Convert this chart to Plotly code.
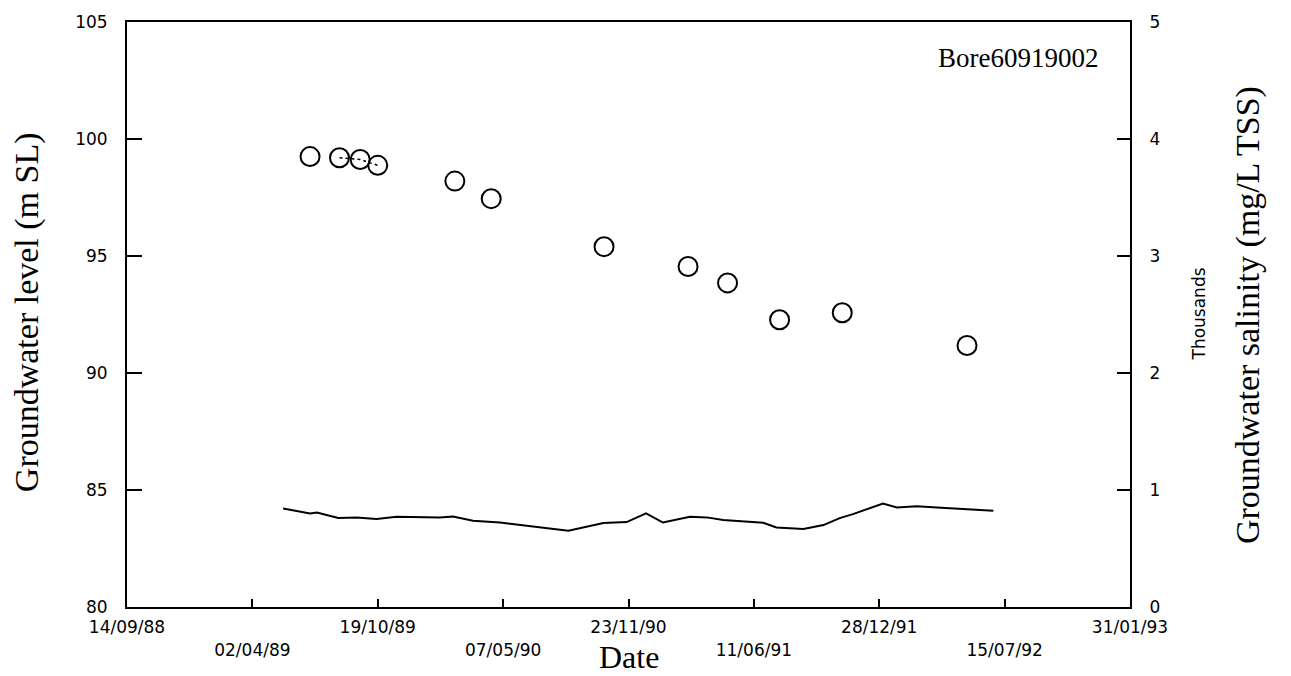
import pandas as pd
import plotly.graph_objects as go

# Groundwater level record (m SL)
level_dates = [
    "1989-05-21", "1989-07-03", "1989-07-14", "1989-08-17", "1989-09-15",
    "1989-10-17", "1989-11-18", "1990-01-26", "1990-02-16", "1990-03-20",
    "1990-05-02", "1990-07-05", "1990-08-19", "1990-10-14", "1990-11-20",
    "1990-12-21", "1991-01-17", "1991-03-01", "1991-03-28", "1991-04-23",
    "1991-06-26", "1991-07-17", "1991-08-29", "1991-09-30", "1991-10-26",
    "1991-11-16", "1992-01-03", "1992-01-25", "1992-02-26", "1992-03-29",
    "1992-06-27",
]
levels = [
    84.21, 84.00, 84.04, 83.80, 83.83,
    83.76, 83.86, 83.83, 83.87, 83.69,
    83.61, 83.40, 83.26, 83.59, 83.63,
    84.00, 83.61, 83.86, 83.83, 83.72,
    83.60, 83.40, 83.33, 83.50, 83.80,
    83.97, 84.42, 84.25, 84.31, 84.25,
    84.11,
]

# Groundwater salinity samples (mg/L TSS)
salinity_dates = [
    "1989-07-03", "1989-08-19", "1989-09-21", "1989-10-19", "1990-02-19",
    "1990-04-18", "1990-10-15", "1991-02-26", "1991-04-30", "1991-07-22",
    "1991-10-30", "1992-05-16",
]
salinity = [3850, 3840, 3825, 3775, 3640, 3490, 3080, 2910, 2770, 2455, 2515, 2235]

# Date axis ticks
x_tick_labels = ["14/09/88", "02/04/89", "19/10/89", "07/05/90", "23/11/90",
                 "11/06/91", "28/12/91", "15/07/92", "31/01/93"]
x_tick_dates = pd.to_datetime(x_tick_labels, format="%d/%m/%y")

level_ticks = [80, 85, 90, 95, 100, 105]
salinity_ticks = [0, 1000, 2000, 3000, 4000, 5000]
salinity_tick_labels = ["0", "1", "2", "3", "4", "5"]

tick_font = dict(family="DejaVu Sans", size=17, color="black")
serif = "Liberation Serif"

fig = go.Figure()

fig.add_trace(go.Scatter(
    x=pd.to_datetime(level_dates), y=levels, mode="lines",
    line=dict(color="black", width=2), yaxis="y", showlegend=False,
))

# short dotted link between the closely spaced early samples
fig.add_trace(go.Scatter(
    x=pd.to_datetime(salinity_dates[1:4]), y=salinity[1:4], mode="lines",
    line=dict(color="black", width=1.5, dash="dot"), yaxis="y2", showlegend=False,
))

fig.add_trace(go.Scatter(
    x=pd.to_datetime(salinity_dates), y=salinity, mode="markers",
    marker=dict(symbol="circle-open", size=19, color="black",
                line=dict(color="black", width=2)),
    yaxis="y2", showlegend=False,
))

# staggered date labels: every second one drops to a second row
x_tick_text = [lab if i % 2 == 0 else "<br>" + lab for i, lab in enumerate(x_tick_labels)]

fig.update_layout(
    width=1291, height=676,
    margin=dict(l=127, r=161, t=18, b=69),
    paper_bgcolor="white", plot_bgcolor="white",
    xaxis=dict(
        type="date",
        range=[x_tick_dates[0], x_tick_dates[-1]],
        tickvals=x_tick_dates, ticktext=x_tick_text,
        ticks="inside", ticklen=8, tickwidth=1.5, tickcolor="black",
        showline=True, linecolor="black", linewidth=2, mirror=True,
        showgrid=False, zeroline=False,
        tickfont=tick_font, tickangle=0, ticklabelstandoff=4,
    ),
    yaxis=dict(
        range=[80, 105], tickvals=level_ticks,
        ticks="inside", ticklen=15, tickwidth=1.5, tickcolor="black",
        showline=True, linecolor="black", linewidth=2,
        showgrid=False, zeroline=False,
        tickfont=tick_font, ticklabelstandoff=14,
    ),
    yaxis2=dict(
        range=[0, 5000], tickvals=salinity_ticks, ticktext=salinity_tick_labels,
        overlaying="y", side="right",
        ticks="inside", ticklen=13, tickwidth=1.5, tickcolor="black",
        showline=True, linecolor="black", linewidth=2,
        showgrid=False, zeroline=False,
        tickfont=tick_font, ticklabelstandoff=14,
    ),
    annotations=[
        dict(text="Groundwater level (m SL)", textangle=-90,
             xref="paper", yref="paper", x=(27 - 127) / 1003, y=0.504,
             xanchor="center", yanchor="middle", showarrow=False,
             font=dict(family=serif, size=34, color="black")),
        dict(text="Groundwater salinity (mg/L TSS)", textangle=-90,
             xref="paper", yref="paper", x=(1248 - 127) / 1003, y=0.499,
             xanchor="center", yanchor="middle", showarrow=False,
             font=dict(family=serif, size=34, color="black")),
        dict(text="Thousands", textangle=-90,
             xref="paper", yref="paper", x=(1198 - 127) / 1003, y=0.5,
             xanchor="center", yanchor="middle", showarrow=False,
             font=dict(family="DejaVu Sans", size=17, color="black")),
        dict(text="Date",
             xref="paper", yref="paper", x=0.5, y=(607 - 657) / 589,
             xanchor="center", yanchor="middle", showarrow=False,
             font=dict(family=serif, size=32, color="black")),
        dict(text="Bore60919002",
             xref="paper", yref="paper", x=(1100 - 127) / 1003, y=(607 - 54) / 589,
             xanchor="right", yanchor="middle", showarrow=False,
             font=dict(family=serif, size=27, color="black")),
    ],
)

fig.write_html("out.html")
